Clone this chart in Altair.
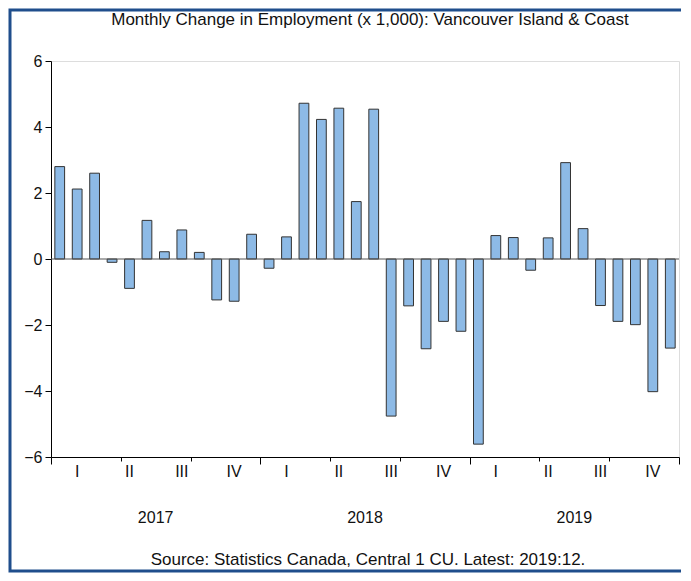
import altair as alt
import pandas as pd

# Monthly change in employment (x 1,000), 2017:01 - 2019:12
months = [f"{y}-{m:02d}" for y in (2017, 2018, 2019) for m in range(1, 13)]
values = [2.80, 2.12, 2.60, -0.10, -0.89, 1.17, 0.22, 0.88, 0.20, -1.24, -1.28, 0.75,
          -0.28, 0.67, 4.72, 4.23, 4.57, 1.74, 4.54, -4.76, -1.42, -2.72, -1.89, -2.19,
          -5.61, 0.71, 0.65, -0.34, 0.64, 2.92, 0.92, -1.41, -1.89, -1.99, -4.02, -2.70]
quarter_labels = ["I", "II", "III", "IV"] * 3
years = ["2017", "2018", "2019"]
y_ticks = [-6, -4, -2, 0, 2, 4, 6]

title_text = "Monthly Change in Employment (x 1,000): Vancouver Island & Coast"
source_text = "Source: Statistics Canada, Central 1 CU. Latest: 2019:12."

FONT = "Liberation Sans Narrow, Liberation Sans, Arial"
W, H = 628, 396

df = pd.DataFrame({"month": months, "idx": list(range(len(months))), "value": values})
qdf = pd.DataFrame({"q": quarter_labels, "qi": list(range(len(quarter_labels)))})
ydf = pd.DataFrame({"year": years, "yi": list(range(len(years)))})
one = pd.DataFrame({"k": [0]})

xscale = alt.Scale(domain=[0, len(months)], nice=False, zero=False)
yscale = alt.Scale(domain=[-6, 6], nice=False)

bars = alt.Chart(df).transform_calculate(
    x0="datum.idx + 0.22", x1="datum.idx + 0.78"
).mark_bar(color="#8DBAE6", stroke="#333333", strokeWidth=1).encode(
    x=alt.X("x0:Q", scale=xscale, axis=alt.Axis(
        values=list(range(len(months) + 1)), labels=False, title=None, grid=False,
        domain=True, domainColor="#000000",
        tickColor="#000000",
        tickSize=alt.condition("datum.value % 3 === 0", alt.value(7), alt.value(4)),
    )),
    x2="x1:Q",
    y=alt.Y("value:Q", scale=yscale, axis=alt.Axis(
        values=y_ticks, title=None, grid=False, tickSize=6, tickColor="#000000",
        domainColor="#000000", labelFont=FONT, labelFontSize=16, labelColor="#111111",
        labelPadding=3,
    )),
    y2=alt.datum(0),
)

zero = alt.Chart(one).mark_rule(color="#555555", strokeWidth=1).encode(
    y=alt.datum(0, scale=yscale)
)

qtext = alt.Chart(qdf).transform_calculate(
    qx="datum.qi * 3 + 1.5"
).mark_text(font=FONT, fontSize=16, color="#111111", baseline="middle").encode(
    x=alt.X("qx:Q", scale=xscale), y=alt.value(H + 15), text="q:N"
)

ytext = alt.Chart(ydf).transform_calculate(
    yx="datum.yi * 12 + 6"
).mark_text(font=FONT, fontSize=16, color="#111111", baseline="middle").encode(
    x=alt.X("yx:Q", scale=xscale), y=alt.value(H + 61), text="year:N"
)

title = alt.Chart(one).mark_text(font=FONT, fontSize=17, color="#111111", baseline="middle").encode(
    x=alt.value(319), y=alt.value(-41), text=alt.value(title_text)
)
source = alt.Chart(one).mark_text(font=FONT, fontSize=17, color="#111111", baseline="middle").encode(
    x=alt.value(317), y=alt.value(H + 103), text=alt.value(source_text)
)

frame = alt.Chart(one).mark_rect(fill=None, stroke="#1F4E8C", strokeWidth=3, clip=False).encode(
    x=alt.value(-41), x2=alt.value(W + 4), y=alt.value(-51), y2=alt.value(H + 114)
)

chart = alt.layer(bars, zero, qtext, ytext, title, source, frame).properties(
    width=W, height=H,
    autosize=alt.AutoSizeParams(type="none"),
    padding={"left": 43, "top": 53, "right": 2, "bottom": 116},
).configure_view(stroke="#000000", strokeWidth=1).configure(background="white")

chart.save("out.html", embed_options={"renderer": "svg", "actions": False})
